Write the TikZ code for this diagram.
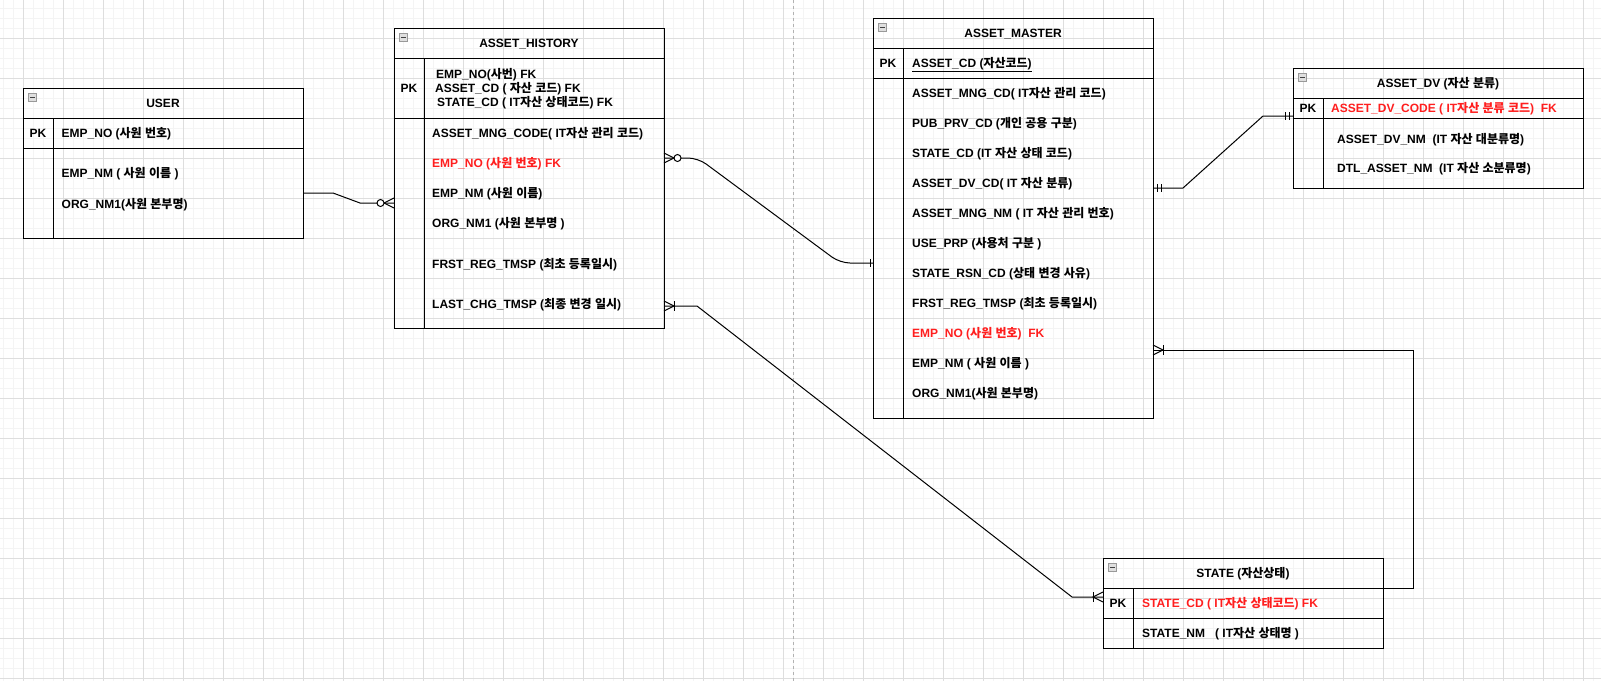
\documentclass[tikz,border=0pt]{standalone}
\usepackage{fontspec}
\setmainfont{Liberation Sans}
\newfontfamily\krfont{Noto Sans CJK KR}
\usetikzlibrary{positioning,calc}

% hangul syllables (class 10) switch to the korean font by themselves
\XeTeXinterchartokenstate=1
\newcount\hangulcnt
\hangulcnt="AC00
\loop
  \XeTeXcharclass\hangulcnt=10
  \advance\hangulcnt by 1
\ifnum\hangulcnt<"D7A4 \repeat
\XeTeXinterchartoks 0 10 = {\krfont}
\XeTeXinterchartoks 1 10 = {\krfont}
\XeTeXinterchartoks 2 10 = {\krfont}
\XeTeXinterchartoks 3 10 = {\krfont}
\XeTeXinterchartoks 4095 10 = {\krfont}
\XeTeXinterchartoks 10 0 = {\rmfamily}
\XeTeXinterchartoks 10 1 = {\rmfamily}
\XeTeXinterchartoks 10 2 = {\rmfamily}
\XeTeXinterchartoks 10 3 = {\rmfamily}
\XeTeXinterchartoks 10 4095 = {\rmfamily}

\definecolor{errred}{RGB}{255,30,30}
\definecolor{gridminor}{RGB}{244,244,244}
\definecolor{gridmajor}{RGB}{222,222,222}

\tikzset{
  erfont/.style={font=\fontsize{12}{14}\selectfont\bfseries},
  hdr/.style={draw, line width=1pt, outer sep=0pt, inner sep=0pt,
    minimum height=30pt, text height=8.6pt, text depth=0pt, erfont},
  cell/.style={draw, line width=1pt, outer sep=0pt, inner sep=0pt},
  fld/.style={anchor=west, inner sep=0pt, text height=8.6pt, text depth=0pt, erfont},
  pkmark/.style={inner sep=0pt, text height=8.6pt, text depth=0pt, erfont},
  fk/.style={fld, text=errred},
  minusbtn/.style={draw=gray!80, fill=gray!25, minimum size=8pt, inner sep=0pt,
    outer sep=0pt, path picture={\draw[black!75, line width=1pt]
      ([xshift=1.5pt]path picture bounding box.west) --
      ([xshift=-1.5pt]path picture bounding box.east);}},
  erline/.style={line width=1pt},
  pagebreak/.style={gray!60, dash pattern=on 3pt off 3pt},
  % crow's foot ends, box edge at the origin, line coming from the left
  zeromany/.pic={\draw[erline] (0,-5) -- (-10,0) -- (0,5);
    \draw[erline, fill=white] (-13.5,0) circle (3.5pt);},
  onemany/.pic={\draw[erline] (0,-5) -- (-10,0) -- (0,5);
    \draw[erline] (-10,-5) -- (-10,5);},
  onlyone/.pic={\draw[erline] (-3,-4) -- (-3,4);},
  mandone/.pic={\draw[erline] (-4,-4) -- (-4,4) (-8,-4) -- (-8,4);},
}

\begin{document}
\begin{tikzpicture}[x=1pt,y=-1pt]
  \useasboundingbox (0,0) rectangle (1601,681);

  % grid
  \foreach \x in {3,13,...,1601} \draw[gridminor] (\x,0) -- (\x,681);
  \foreach \y in {8,18,...,681} \draw[gridminor] (0,\y) -- (1601,\y);
  \foreach \x in {23,63,...,1601} \draw[gridmajor] (\x,0) -- (\x,681);
  \foreach \y in {38,78,...,681} \draw[gridmajor] (0,\y) -- (1601,\y);
  \draw[pagebreak] (793,0) -- (793,681);

  % USER
  \node[hdr, minimum width=280pt, anchor=north west] (user) at (23,88) {USER};
  \node[cell, minimum width=280pt, minimum height=30pt, below=0pt of user] (user-pk) {};
  \node[cell, minimum width=280pt, minimum height=90pt, below=0pt of user-pk] (user-body) {};
  \draw[erline] ($(user-pk.north west)+(30,0)$) -- ($(user-body.south west)+(30,0)$);
  \node[minusbtn] (user-btn) at ($(user.north west)+(9.5,9)$) {};
  \node[pkmark] (user-pkl) at ($(user-pk.west)+(15,0)$) {PK};
  \node[fld] (user-id) at (61.5,133) {EMP\_NO (사원 번호)};
  \node[fld] (user-f1) at (61.5,173) {EMP\_NM ( 사원 이름 )};
  \node[fld] (user-f2) at (61.5,204) {ORG\_NM1(사원 본부명)};

  % ASSET_HISTORY
  \node[hdr, minimum width=270pt, anchor=north west] (hist) at (394,28) {ASSET\_HISTORY};
  \node[cell, minimum width=270pt, minimum height=60pt, below=0pt of hist] (hist-pk) {};
  \node[cell, minimum width=270pt, minimum height=210pt, below=0pt of hist-pk] (hist-body) {};
  \draw[erline] ($(hist-pk.north west)+(30,0)$) -- ($(hist-body.south west)+(30,0)$);
  \node[minusbtn] (hist-btn) at ($(hist.north west)+(9.5,9)$) {};
  \node[pkmark] (hist-pkl) at ($(hist-pk.west)+(15,0)$) {PK};
  \node[fld] (hist-id1) at (436,74) {EMP\_NO(사번) FK};
  \node[fld] (hist-id2) at (435,88) {ASSET\_CD ( 자산 코드) FK};
  \node[fld] (hist-id3) at (437,102) {STATE\_CD ( IT자산 상태코드) FK};
  \node[fld] (hist-f1) at (432,133) {ASSET\_MNG\_CODE( IT자산 관리 코드)};
  \node[fk]  (hist-f2) at (432,163) {EMP\_NO (사원 번호) FK};
  \node[fld] (hist-f3) at (432,193) {EMP\_NM (사원 이름)};
  \node[fld] (hist-f4) at (432,223) {ORG\_NM1 (사원 본부명 )};
  \node[fld] (hist-f5) at (432,264) {FRST\_REG\_TMSP (최초 등록일시)};
  \node[fld] (hist-f6) at (432,304) {LAST\_CHG\_TMSP (최종 변경 일시)};

  % ASSET_MASTER
  \node[hdr, minimum width=280pt, anchor=north west] (mst) at (873,18) {ASSET\_MASTER};
  \node[cell, minimum width=280pt, minimum height=30pt, below=0pt of mst] (mst-pk) {};
  \node[cell, minimum width=280pt, minimum height=340pt, below=0pt of mst-pk] (mst-body) {};
  \draw[erline] ($(mst-pk.north west)+(30,0)$) -- ($(mst-body.south west)+(30,0)$);
  \node[minusbtn] (mst-btn) at ($(mst.north west)+(9.5,9)$) {};
  \node[pkmark] (mst-pkl) at ($(mst-pk.west)+(15,0)$) {PK};
  \node[fld] (mst-id) at (912,63) {\underline{ASSET\_CD (자산코드)}};
  \foreach \i/\t in {0/{ASSET\_MNG\_CD( IT자산 관리 코드)},
                     1/{PUB\_PRV\_CD (개인 공용 구분)},
                     2/{STATE\_CD (IT 자산 상태 코드)},
                     3/{ASSET\_DV\_CD( IT 자산 분류)},
                     4/{ASSET\_MNG\_NM ( IT 자산 관리 번호)},
                     5/{USE\_PRP (사용처 구분 )},
                     6/{STATE\_RSN\_CD (상태 변경 사유)},
                     7/{FRST\_REG\_TMSP (최초 등록일시)},
                     9/{EMP\_NM ( 사원 이름 )},
                     10/{ORG\_NM1(사원 본부명)}}
    \node[fld] (mst-f\i) at (912,93.5+30*\i) {\t};
  \node[fk] (mst-f8) at (912,333.5) {EMP\_NO (사원 번호)\ \ FK};

  % ASSET_DV
  \node[hdr, minimum width=290pt, anchor=north west] (dv) at (1293,68) {ASSET\_DV (자산 분류)};
  \node[cell, minimum width=290pt, minimum height=20pt, below=0pt of dv] (dv-pk) {};
  \node[cell, minimum width=290pt, minimum height=70pt, below=0pt of dv-pk] (dv-body) {};
  \draw[erline] ($(dv-pk.north west)+(30,0)$) -- ($(dv-body.south west)+(30,0)$);
  \node[minusbtn] (dv-btn) at ($(dv.north west)+(9.5,9)$) {};
  \node[pkmark] (dv-pkl) at ($(dv-pk.west)+(15,0)$) {PK};
  \node[fk]  (dv-id) at (1331,108) {ASSET\_DV\_CODE ( IT자산 분류 코드)\ \ FK};
  \node[fld] (dv-f1) at (1337,139) {ASSET\_DV\_NM\ \ (IT 자산 대분류명)};
  \node[fld] (dv-f2) at (1337,168) {DTL\_ASSET\_NM\ \ (IT 자산 소분류명)};

  % STATE
  \node[hdr, minimum width=280pt, anchor=north west] (state) at (1103,558) {STATE (자산상태)};
  \node[cell, minimum width=280pt, minimum height=30pt, below=0pt of state] (state-pk) {};
  \node[cell, minimum width=280pt, minimum height=30pt, below=0pt of state-pk] (state-body) {};
  \draw[erline] ($(state-pk.north west)+(30,0)$) -- ($(state-body.south west)+(30,0)$);
  \node[minusbtn] (state-btn) at ($(state.north west)+(9.5,9)$) {};
  \node[pkmark] (state-pkl) at ($(state-pk.west)+(15,0)$) {PK};
  \node[fk]  (state-id) at (1142,603) {STATE\_CD ( IT자산 상태코드) FK};
  \node[fld] (state-f1) at (1142,633) {STATE\_NM\ \ \ ( IT자산 상태명 )};

  % relations
  \coordinate (c1a) at ($(user.north east)+(0,105)$);
  \coordinate (c1b) at ($(hist.north west)+(0,175)$);
  \coordinate (c2a) at ($(hist.north east)+(0,130)$);
  \coordinate (c2b) at ($(mst.north west)+(0,245)$);
  \coordinate (c3a) at ($(hist.north east)+(0,278)$);
  \coordinate (c3b) at ($(state.north west)+(0,39)$);
  \coordinate (c4a) at ($(mst.north east)+(0,170)$);
  \coordinate (c4b) at ($(dv.north west)+(0,48)$);
  \coordinate (c5a) at ($(state.north east)+(0,30)$);
  \coordinate (c5b) at ($(mst.north east)+(0,332)$);

  \draw[erline] (c1a) -- ++(30,0) -- ($(c1b)+(-34,0)$) -- (c1b);
  \draw[erline, rounded corners=10pt] (c2a) -- ++(34,0) -- ($(c2b)+(-33,0)$) -- (c2b);
  \draw[erline] (c3a) -- ++(33,0) -- ($(c3b)+(-31,0)$) -- (c3b);
  \draw[erline] (c4a) -- ++(30,0) -- ($(c4b)+(-30,0)$) -- (c4b);
  \draw[erline] (c5a) -- ++(30,0) |- (c5b);

  \pic at (c1b) {zeromany};
  \pic[xscale=-1] at (c2a) {zeromany};
  \pic at (c2b) {onlyone};
  \pic[xscale=-1] at (c3a) {onemany};
  \pic at (c3b) {onemany};
  \pic[xscale=-1] at (c4a) {mandone};
  \pic at (c4b) {mandone};
  \pic[xscale=-1] at (c5b) {onemany};
\end{tikzpicture}
\end{document}
